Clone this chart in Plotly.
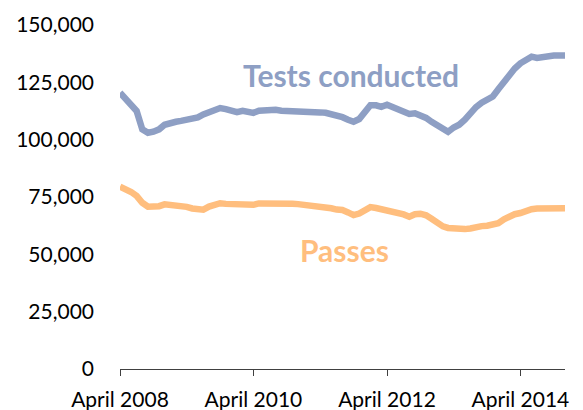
import pandas as pd
import plotly.graph_objects as go

months = pd.date_range("2008-04-01", periods=81, freq="MS")

tests_conducted = [
    120500, 118000, 115000, 112500, 104500, 103000, 103500, 104500, 106500, 107500,
    107800, 108200, 108700, 109000, 109700, 111000, 112200, 113000, 113800, 113300,
    112300, 112000, 112600, 112200, 111700, 112600, 112800, 113400, 113000, 112600,
    112600, 112300, 112100, 112300, 112600, 112300, 111900, 111700, 111200, 110800,
    109800, 108700, 107800, 109000, 112500, 115000, 115000, 114300, 115200, 114300,
    113400, 112300, 111200, 111500, 110800, 109500, 107800, 106000, 104300, 103400,
    105300, 106500, 108700, 111500, 114200, 116100, 117500, 118800, 122000, 125500,
    129000, 131000, 133300, 135000, 136200, 135600, 136200, 136700, 136700, 136700,
    136700,
]

passes = [
    79500, 78500, 77200, 75500, 72500, 70800, 70800, 71000, 71800, 71700,
    71500, 71000, 70700, 70000, 69400, 69500, 70800, 71800, 72300, 72000,
    71900, 72100, 72300, 71800, 71600, 72200, 72300, 72300, 72300, 71900,
    72300, 72100, 71900, 71700, 71500, 71100, 70700, 70400, 70100, 69500,
    69300, 68300, 67100, 67800, 69500, 70600, 70200, 69700, 69300, 68600,
    68000, 67400, 66400, 67500, 67700, 67000, 65500, 63800, 62200, 61500,
    61200, 61000, 61000, 61300, 62000, 62300, 62500, 62700, 63600, 65300,
    66800, 67500, 68000, 69000, 69700, 70000, 70100, 70100, 70100, 70100,
    70100,
]

x_tick_dates = ["2008-04-01", "2010-04-01", "2012-04-01", "2014-04-01"]
x_tick_labels = ["April 2008", "April 2010", "April 2012", "April 2014"]
y_ticks = [0, 25000, 50000, 75000, 100000, 125000, 150000]

BLUE = "#8E9FC4"
ORANGE = "#FFBE7E"
FONT = "Lato"

fig = go.Figure()
fig.add_trace(go.Scatter(x=months, y=tests_conducted, mode="lines",
                         line=dict(color=BLUE, width=6.5), name="Tests conducted"))
fig.add_trace(go.Scatter(x=months, y=passes, mode="lines",
                         line=dict(color=ORANGE, width=6.5), name="Passes"))

fig.add_annotation(x="2011-09-15", y=128300, text="<b>Tests conducted</b>",
                   showarrow=False, font=dict(family=FONT, size=30, color=BLUE))
fig.add_annotation(x="2011-08-10", y=51800, text="<b>Passes</b>",
                   showarrow=False, font=dict(family=FONT, size=30, color=ORANGE))

# The page body has an 8px default margin, so the figure is sized to fit inside it.
fig.update_layout(
    width=575, height=402,
    margin=dict(l=112, r=18, t=17, b=41, autoexpand=False),
    paper_bgcolor="white", plot_bgcolor="white",
    showlegend=False,
    font=dict(family=FONT, size=21, color="black"),
)
fig.update_xaxes(
    range=[months[0], months[-1]],
    tickvals=x_tick_dates, ticktext=x_tick_labels,
    showgrid=False, zeroline=False, automargin=False,
    showline=True, linecolor="#404040", linewidth=1,
    ticks="outside", ticklen=6, tickcolor="#404040",
    ticklabelstandoff=6,
    tickfont=dict(family=FONT, size=21, color="black"),
)
fig.update_yaxes(
    range=[0, 150000],
    tickvals=y_ticks, tickformat=",",
    showgrid=False, zeroline=False, showline=False, automargin=False,
    ticklabelstandoff=25,
    tickfont=dict(family=FONT, size=21, color="black"),
)

fig.write_html("out.html")
